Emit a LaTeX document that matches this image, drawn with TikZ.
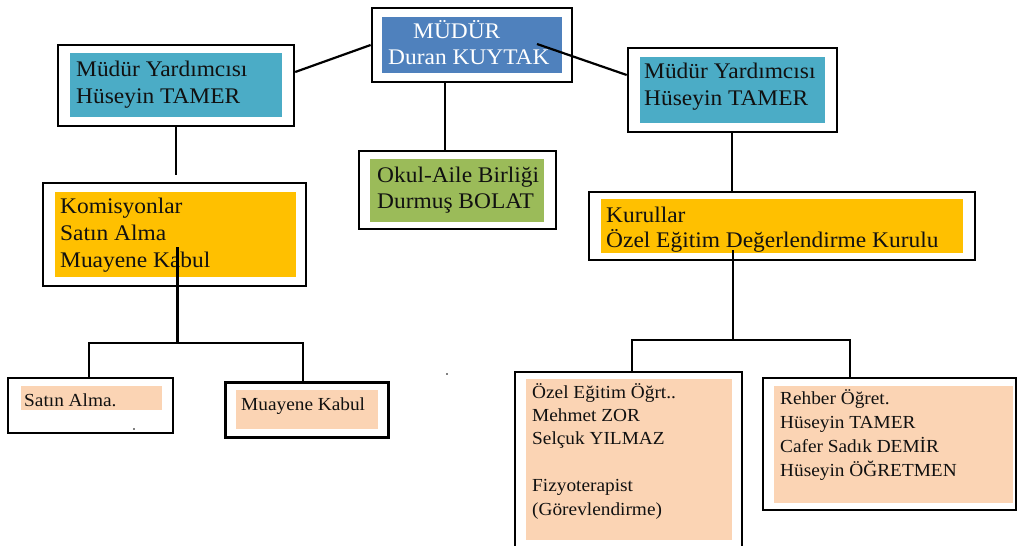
\documentclass[tikz,border=0pt]{standalone}
\usepackage{fontspec}
\setmainfont{Liberation Serif}[FakeStretch=1.05]
\usetikzlibrary{fit}
\definecolor{mblue}{HTML}{4F81BD}
\definecolor{mteal}{HTML}{4BACC6}
\definecolor{morange}{HTML}{FFC000}
\definecolor{mgreen}{HTML}{9BBB59}
\definecolor{mpeach}{HTML}{FBD4B4}
\definecolor{mtext}{HTML}{111111}
\begin{document}
\begin{tikzpicture}[x=1pt,y=-1pt,
  outerbox/.style={draw=black, line width=2.4pt, inner sep=0pt, rectangle},
  fillbox/.style={inner sep=0pt, rectangle, draw=none},
  bigtxt/.style={inner sep=0pt, anchor=base west, align=left, text=mtext,
    font=\fontsize{22.3}{26.5}\selectfont},
  smalltxt/.style={inner sep=0pt, anchor=base west, align=left, text=mtext,
    font=\fontsize{18.4}{23.5}\selectfont},
  conn/.style={draw=black, line width=2.2pt}]
\useasboundingbox (0,0) rectangle (1018,546);
\clip (0,0) rectangle (1018,546);

% outer frames
\node[outerbox, line width=2.7pt, fit={(372,8) (572,82)}] (mudur) {};
\node[outerbox, fit={(58,45) (294,126)}] (lyard) {};
\node[outerbox, line width=2.6pt, fit={(628,48) (837,132)}] (ryard) {};
\node[outerbox, fit={(359,151) (556,229)}] (okul) {};
\node[outerbox, fit={(43,183) (306,286)}] (kom) {};
\node[outerbox, fit={(589,192) (975,260)}] (kur) {};
\node[outerbox, fit={(8,378) (173,433)}] (satin) {};
\node[outerbox, line width=3pt, fit={(225,382) (388,437)}] (muay) {};
\node[outerbox, fit={(515,372) (742,570)}] (ozel) {};
\node[outerbox, fit={(763,378) (1016,510)}] (rehb) {};

% coloured fills
\node[fillbox, fill=mblue, fit={(382,17) (562,73)}] (mudurf) {};
\node[fillbox, fill=mteal, fit={(70,53) (282,117)}] (lyardf) {};
\node[fillbox, fill=mteal, fit={(640,57) (825,123)}] (ryardf) {};
\node[fillbox, fill=mgreen, fit={(370,159) (544,222)}] (okulf) {};
\node[fillbox, fill=morange, fit={(55,192) (296,277)}] (komf) {};
\node[fillbox, fill=morange, fit={(601,199) (963,253)}] (kurf) {};
\node[fillbox, fill=mpeach, fit={(21,386) (162,410)}] (satinf) {};
\node[fillbox, fill=mpeach, fit={(236,390) (378,429)}] (muayf) {};
\node[fillbox, fill=mpeach, fit={(526,379) (732,540)}] (ozelf) {};
\node[fillbox, fill=mpeach, fit={(774,386) (1013,503)}] (rehbf) {};

% texts (anchored at the baseline of their last line)
\node[bigtxt, text=white, font=\fontsize{22.3}{26}\selectfont] (mudurt) at (388,64) {\hspace*{25pt}MÜDÜR\\Duran KUYTAK};
\node[bigtxt, font=\fontsize{22.3}{27}\selectfont] (lyardt) at (76,103) {Müdür Yardımcısı\\Hüseyin TAMER};
\node[bigtxt, font=\fontsize{22.3}{27}\selectfont] (ryardt) at (644,105) {Müdür Yardımcısı\\Hüseyin TAMER};
\node[bigtxt, font=\fontsize{22.3}{26}\selectfont] (okult) at (377,208) {Okul-Aile Birliği\\Durmuş BOLAT};
\node[bigtxt, font=\fontsize{22.3}{27}\selectfont] (komt) at (60,267) {Komisyonlar\\Satın Alma\\Muayene Kabul};
\node[bigtxt, font=\fontsize{22.3}{25}\selectfont] (kurt) at (606,247) {Kurullar\\Özel Eğitim Değerlendirme Kurulu};
\node[smalltxt] (satint) at (24,406) {Satın Alma.};
\node[smalltxt] (muayt) at (241,410) {Muayene Kabul};
\node[smalltxt, font=\fontsize{18.4}{23.4}\selectfont] (ozelt) at (532,515) {Özel Eğitim Öğrt..\\Mehmet ZOR\\Selçuk YILMAZ\\\strut\\Fizyoterapist\\(Görevlendirme)};
\node[smalltxt, font=\fontsize{18.4}{23.7}\selectfont] (rehbt) at (780,476) {Rehber Öğret.\\Hüseyin TAMER\\Cafer Sadık DEMİR\\Hüseyin ÖĞRETMEN};

% helper coordinates
\coordinate (c1) at (0,72);
\coordinate (c2) at (0,75);
\coordinate (m1) at (537,44);
\coordinate (c3) at (445,0);
\coordinate (c4) at (176,0);
\coordinate (kstart) at (177.5,247);
\coordinate (kb) at (177.5,343);
\coordinate (sx) at (89,343);
\coordinate (mx) at (303,343);
\coordinate (c6) at (732,0);
\coordinate (rstart) at (733,250);
\coordinate (rb) at (733,340);
\coordinate (ox) at (632,340);
\coordinate (rx) at (850,340);

% connectors
\draw[conn] (lyard.east |- c1) -- (mudur.west);
\draw[conn] (m1) -- (ryard.west |- c2);
\draw[conn] (mudur.south -| c3) -- (okul.north -| c3);
\draw[conn] (lyard.south -| c4) -- ([yshift=7pt]kom.north -| c4);
\draw[conn] (kstart) -- (kb);
\draw[conn] (satin.north -| sx) -- (sx) -- (mx) -- (muay.north -| mx);
\draw[conn] (ryard.south -| c6) -- (kur.north -| c6);
\draw[conn] (rstart) -- (rb);
\draw[conn] (ozel.north -| ox) -- (ox) -- (rx) -- (rehb.north -| rx);

% stray dots
\fill (134,429) circle (0.9);
\fill (447,374) circle (0.9);
\end{tikzpicture}
\end{document}
